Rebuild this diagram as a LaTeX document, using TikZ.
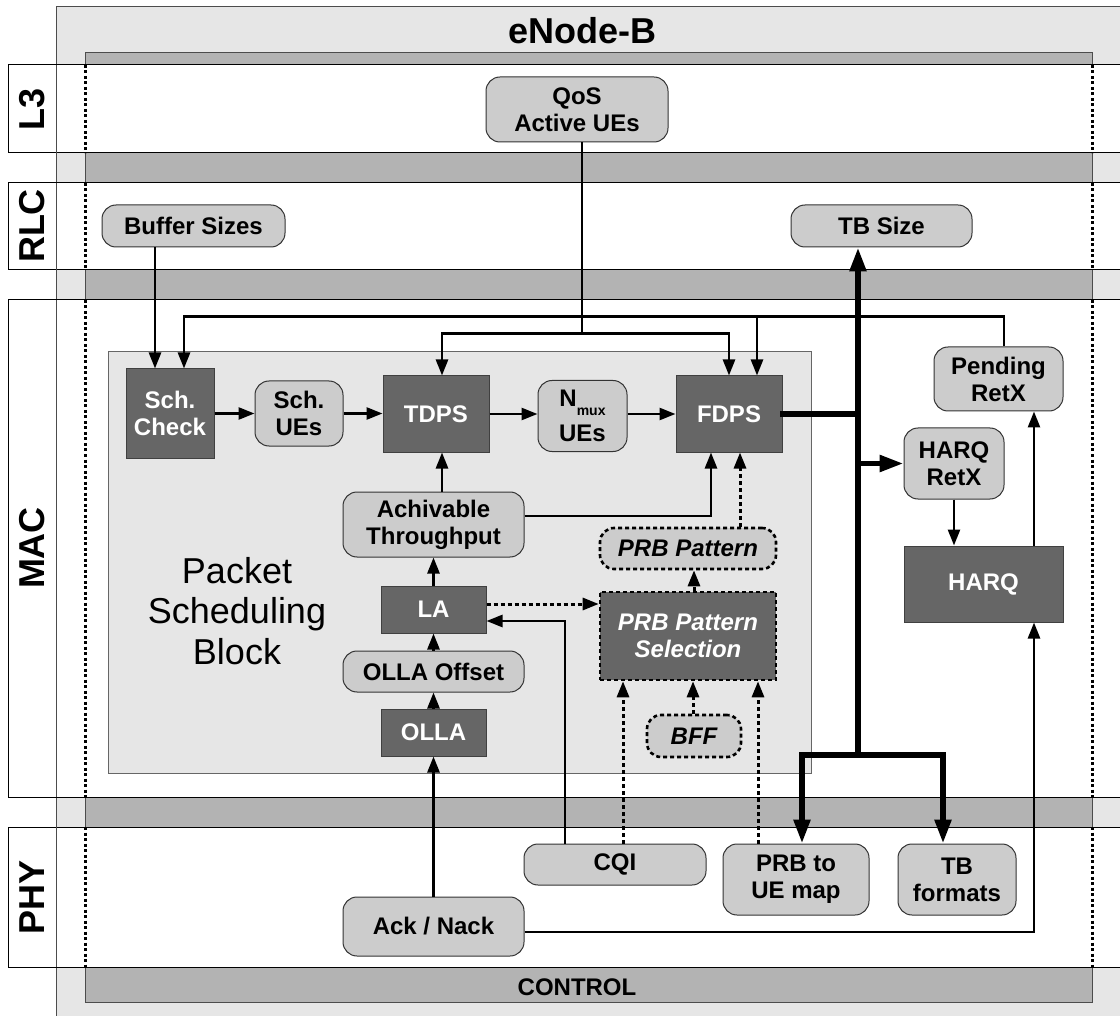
\documentclass[tikz,border=0pt]{standalone}
\usepackage{fontspec}
\setmainfont{Liberation Sans}
\usetikzlibrary{arrows.meta,calc}
\definecolor{lgray}{HTML}{E6E6E6}
\definecolor{mgray}{HTML}{B3B3B3}
\definecolor{rgray}{HTML}{CCCCCC}
\definecolor{dgray}{HTML}{666666}
\begin{document}
\begin{tikzpicture}[x=1pt,y=-1pt,
  lbl/.style={font=\fontsize{24}{27}\selectfont\bfseries, align=center, inner sep=0pt},
  rbox/.style={lbl, draw=black!80, line width=1pt, fill=rgray, rounded corners=14pt},
  dbox/.style={lbl, draw=black!75, line width=1pt, fill=dgray, text=white},
  dsh/.style={dash pattern=on 4pt off 3pt},
  dshbox/.style={dsh, draw=black, line width=2.6pt, font=\fontsize{24}{27}\selectfont\bfseries\itshape},
  conn/.style={line width=2.6pt, -{Triangle[length=16pt,width=12pt]}},
  dconn/.style={conn, line width=3pt, dsh},
  thk/.style={line width=5.5pt, line cap=rect},
  thka/.style={thk, -{Triangle[length=24pt,width=16pt]}},
  laylbl/.style={font=\fontsize{36}{40}\selectfont\bfseries, rotate=90, inner sep=0pt},
  sz/.style 2 args={minimum width=#1pt, minimum height=#2pt},
  dotv/.style={line width=3pt, dash pattern=on 3pt off 2.5pt}
]
\useasboundingbox (0,0) rectangle (1120,1016);
\fill[white] (0,0) rectangle (1120,1016);
% eNode-B frame
\fill[lgray] (56,7) rectangle (1121,1017);
\draw[black!70, line width=1pt] (56,1017) -- (56,7) -- (1121,7);
\filldraw[fill=mgray, draw=black!70, line width=1pt] (85,53) rectangle (1092,1002);
% layer bands
\foreach \ya/\yb in {65/153, 183/270, 300/797, 827/967} {
  \filldraw[fill=white, draw=black, line width=1pt] (8,\ya) rectangle (1125,\yb);
  \draw[black!70, line width=1pt] (56,\ya) -- (56,\yb);
  \draw[dotv] (85,\ya) -- (85,\yb);
  \draw[dotv] (1092,\ya) -- (1092,\yb);
}
\node[laylbl] (l3) at (32,109) {L3};
\node[laylbl] (rlc) at (32,226) {RLC};
\node[laylbl] (mac) at (32,548) {MAC};
\node[laylbl] (phy) at (32,897) {PHY};
\node[font=\fontsize{36}{40}\selectfont\bfseries, inner sep=0pt] (enb) at (582,31) {eNode-B};
\node[lbl] (ctrl) at (577,987) {CONTROL};

% packet scheduling block
\filldraw[fill=lgray, draw=black!60, line width=1pt] (108,352) rectangle (811,773);
\node[font=\fontsize{36}{40.5}\selectfont, align=center, inner sep=0pt] (psb) at (237,611) {Packet\\Scheduling\\Block};

% nodes
\node[rbox, sz={182}{65}] (qos) at (577,109.5) {QoS\\Active UEs};
\node[rbox, sz={183}{42}] (buf) at (193.5,226) {Buffer Sizes};
\node[rbox, sz={181}{42}] (tbs) at (881.5,226) {TB Size};
\node[dbox, sz={88}{89}] (sch) at (170,413.5) {Sch.\\Check};
\node[rbox, sz={88}{65}] (schue) at (299,413.5) {Sch.\\UEs};
\node[dbox, sz={106}{76}] (tdps) at (436,414) {TDPS};
\node[rbox, sz={89}{71}] (nmux) at (582.5,416) {N\raisebox{-9pt}{\fontsize{14}{14}\selectfont\bfseries mux}\\[8pt]UEs};
\node[dbox, sz={106}{76}] (fdps) at (729,414) {FDPS};
\node[rbox, sz={181}{65}] (achv) at (433.5,524.5) {Achivable\\Throughput};
\node[rbox, dshbox, sz={176}{41}] (prbp) at (688,548.5) {PRB Pattern};
\node[dbox, sz={105}{47}] (la) at (433.5,609.5) {LA};
\node[dbox, dshbox, sz={176}{88}] (prbsel) at (688,636) {PRB Pattern\\Selection};
\node[rbox, sz={181}{41}] (ollaoff) at (433.5,671.5) {OLLA Offset};
\node[dbox, sz={105}{47}] (olla) at (433.5,732.5) {OLLA};
\node[rbox, dshbox, sz={94}{42}] (bff) at (694,736) {BFF};
\node[rbox, sz={129}{64}] (pend) at (998.5,379) {Pending\\RetX};
\node[rbox, sz={100}{71}] (hretx) at (954,463.5) {HARQ\\RetX};
\node[dbox, sz={159}{76}] (harq) at (983.5,584) {HARQ};
\node[rbox, sz={182}{41}] (cqi) at (615,864.5) {CQI};
\node[rbox, sz={146}{71}] (prbue) at (796,879.5) {PRB to\\UE map};
\node[rbox, sz={118}{71}] (tbf) at (957,879.5) {TB\\formats};
\node[rbox, sz={181}{59}] (ack) at (433.5,926.5) {Ack / Nack};

% connectors
\draw[conn] ($(buf.south)+(-38.5,0)$) -- ($(sch.north)+(-15,0)$);
\draw[conn] ($(pend.north)+(5.5,0)$) -- ++(0,-30) -| ($(sch.north)+(14,0)$);
\draw[conn] ($(fdps.north)+(28,-59)$) -- ($(fdps.north)+(28,0)$);
\draw[conn] ($(qos.south)+(5,0)$) |- ($(tdps.north)+(6,-42)$) -- ($(tdps.north)+(6,0)$);
\draw[conn] ($(qos.south)+(5,0)$) |- ($(fdps.north)+(0,-42)$) -- (fdps.north);

\draw[conn] (sch.east) -- (sch.east -| schue.west);
\draw[conn] (schue.east) -- (schue.east -| tdps.west);
\draw[conn] (tdps.east) -- (tdps.east -| nmux.west);
\draw[conn] (tdps.east -| nmux.east) -- (fdps.west);

\coordinate (bus1) at (858,414);
\coordinate (bus2) at (858,755);
\draw[thk] (fdps.east) -- (bus1);
\draw[thka] (bus2) -- (bus2 |- tbs.south);
\draw[thka] (bus2 |- hretx.west) -- (hretx.west);
\draw[thka] (bus2) -| ($(prbue.north)+(6,0)$);
\draw[thka] (bus2) -| ($(tbf.north)+(-14,0)$);

\draw[conn] (hretx.south) -- (hretx.south |- harq.north);
\draw[conn] ($(harq.north)+(50.5,0)$) -- ($(pend.south)+(35.5,0)$);
\draw[conn] ($(ack.east)+(0,5.5)$) -| ($(harq.south)+(50.5,0)$);

\draw[conn] (ack.north) -- (olla.south);
\draw[conn] (olla.north) -- (ollaoff.south);
\draw[conn] (ollaoff.north) -- (la.south);
\draw[conn] (la.north) -- (achv.south);
\draw[conn] ($(achv.north)+(8.5,0)$) -- ($(tdps.south)+(6,0)$);
\draw[conn] ($(achv.east)+(0,-8.5)$) -| ($(fdps.south)+(-18,0)$);

\draw[dconn] ($(prbp.north)+(52,0)$) -- ($(fdps.south)+(11,0)$);
\draw[dconn] ($(prbsel.north)+(6,0)$) -- ($(prbp.south)+(6,0)$);
\path (la.east) ++(0,-5.5) coordinate (laE);
\draw[dconn] (laE) -- (laE -| prbsel.west);
\draw[conn] ($(cqi.north)+(-50,0)$) |- ($(la.east)+(0,11.5)$);
\draw[dconn] ($(cqi.north)+(8,0)$) -- ($(prbsel.south)+(-65,0)$);
\draw[dconn] ($(bff.north)+(-1,0)$) -- ($(prbsel.south)+(5,0)$);
\draw[dconn] ($(prbue.north)+(-38,0)$) -- ($(prbsel.south)+(70,0)$);
\end{tikzpicture}
\end{document}
